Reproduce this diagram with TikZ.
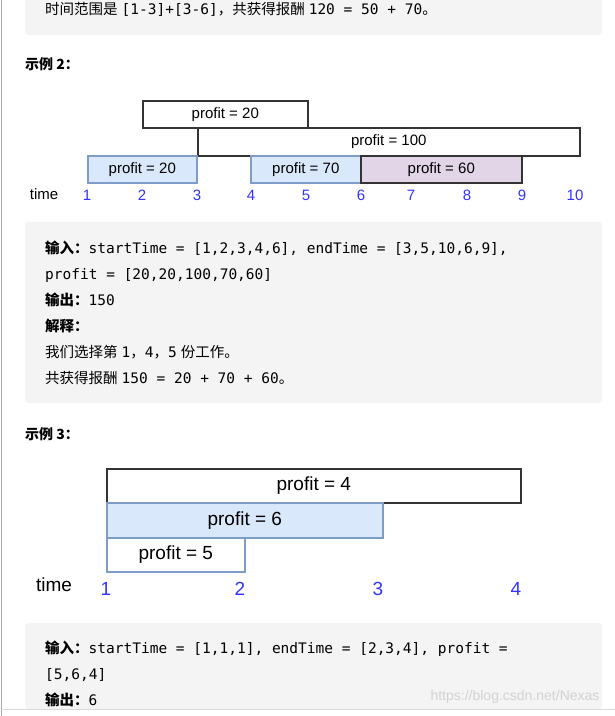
\documentclass[tikz,border=0pt]{standalone}
\usepackage{fontspec}
\setmainfont{Liberation Sans}
\newfontfamily\cjk{Noto Sans CJK SC}
\newfontfamily\mono{DejaVu Sans Mono}
\usetikzlibrary{positioning}
\definecolor{codebg}{HTML}{F4F4F4}
\definecolor{jobblue}{HTML}{DAE8FC}
\definecolor{lineblue}{HTML}{7E9CC8}
\definecolor{jobpurple}{HTML}{E1D5E7}
\definecolor{tickblue}{HTML}{3333FF}
\newcommand{\cn}[1]{{\cjk #1}}
\newcommand{\cnb}[1]{{\cjk\bfseries #1}}
\newcommand{\cd}[1]{{\mono #1}}
\tikzset{
  codebox/.style={fill=codebg, draw=none, rounded corners=3pt},
  codeline/.style={anchor=base west, inner sep=0pt, font=\fontsize{14.5}{16}\selectfont},
  heading/.style={anchor=base west, inner sep=0pt, font=\fontsize{14}{16}\selectfont\cjk\bfseries},
  job/.style={draw=black!80, line width=1.6pt, anchor=north west, inner sep=0pt, font=\fontsize{15}{17}\selectfont},
  bluejob/.style={job, fill=jobblue, draw=lineblue},
  purplejob/.style={job, fill=jobpurple},
  tick/.style={text=tickblue, font=\fontsize{15}{17}\selectfont},
  bigjob/.style={job, font=\fontsize{19}{21}\selectfont},
  bigtick/.style={tick, font=\fontsize{19}{21}\selectfont},
}
\begin{document}
\begin{tikzpicture}[x=1pt, y=-1pt]
\useasboundingbox (0,0) rectangle (615,716);
\draw[gray!70, line width=1pt] (1,0) -- (1,716);
% top code box
\fill[codebox] (25,-5) rectangle (602,35);
\node[codeline] (t1) at (45,14) {\cn{时间范围是} \cd{[1-3]+[3-6]}\cn{，共获得报酬} \cd{120 = 50 + 70}\cn{。}};
% example 2
\node[heading] (h2) at (25,69) {示例 2：};
\node[job, minimum width=165pt, minimum height=27pt] (a) at (142,100) {profit = 20};
\node[job, minimum width=382pt, minimum height=28pt] (b) at (197,127) {profit = 100};
\node[bluejob, minimum width=109pt, minimum height=27pt] (c) at (87,155) {profit = 20};
\node[bluejob, minimum width=110pt, minimum height=27pt] (d) at (250,155) {profit = 70};
\node[purplejob, minimum width=161pt, minimum height=27pt] (e) at (360,155) {profit = 60};
\node[font=\fontsize{15}{17}\selectfont] (time2) at (44,194) {time};
\foreach \t/\x in {1/87,2/142,3/197,4/251,5/306,6/361,7/411,8/467,9/522,10/575}
  \node[tick] (n\t) at (\x,195) {\t};
% code box 2
\fill[codebox] (25,222) rectangle (602,403);
\node[codeline] (l1) at (45,253) {\cnb{输入：}\cd{startTime = [1,2,3,4,6], endTime = [3,5,10,6,9],}};
\node[codeline] (l2) at (45,279) {\cd{profit = [20,20,100,70,60]}};
\node[codeline] (l3) at (45,305) {\cnb{输出：}\cd{150}};
\node[codeline] (l4) at (45,331) {\cnb{解释：}};
\node[codeline] (l5) at (45,357) {\cn{我们选择第} \cd{1}\cn{，}\cd{4}\cn{，}\cd{5} \cn{份工作。}};
\node[codeline] (l6) at (45,383) {\cn{共获得报酬} \cd{150 = 20 + 70 + 60}\cn{。}};
% example 3
\node[heading] (h3) at (25,439) {示例 3：};
\node[bigjob, minimum width=414pt, minimum height=34pt] (f) at (106,468) {profit = 4};
\node[bigjob, fill=jobblue, draw=lineblue, minimum width=276pt, minimum height=35pt] (g) at (106,502) {profit = 6};
\node[bigjob, draw=lineblue, minimum width=138pt, minimum height=34pt] (h) at (106,537) {profit = 5};
\node[font=\fontsize{19}{21}\selectfont] (time3) at (54,585) {time};
\foreach \t/\x in {1/106,2/240,3/378,4/516}
  \node[bigtick] (m\t) at (\x,589) {\t};
% code box 3
\fill[codebox] (25,623) rectangle (602,709);
\node[codeline] (k1) at (45,653) {\cnb{输入：}\cd{startTime = [1,1,1], endTime = [2,3,4], profit =}};
\node[codeline] (k2) at (45,679) {\cd{[5,6,4]}};
\node[codeline] (k3) at (45,705) {\cnb{输出：}\cd{6}};
\draw[gray!30] (1,709) -- (615,709);
\node[text=gray!35, font=\fontsize{14}{16}\selectfont] (wm) at (515,697) {https://blog.csdn.net/Nexas};
\end{tikzpicture}
\end{document}
